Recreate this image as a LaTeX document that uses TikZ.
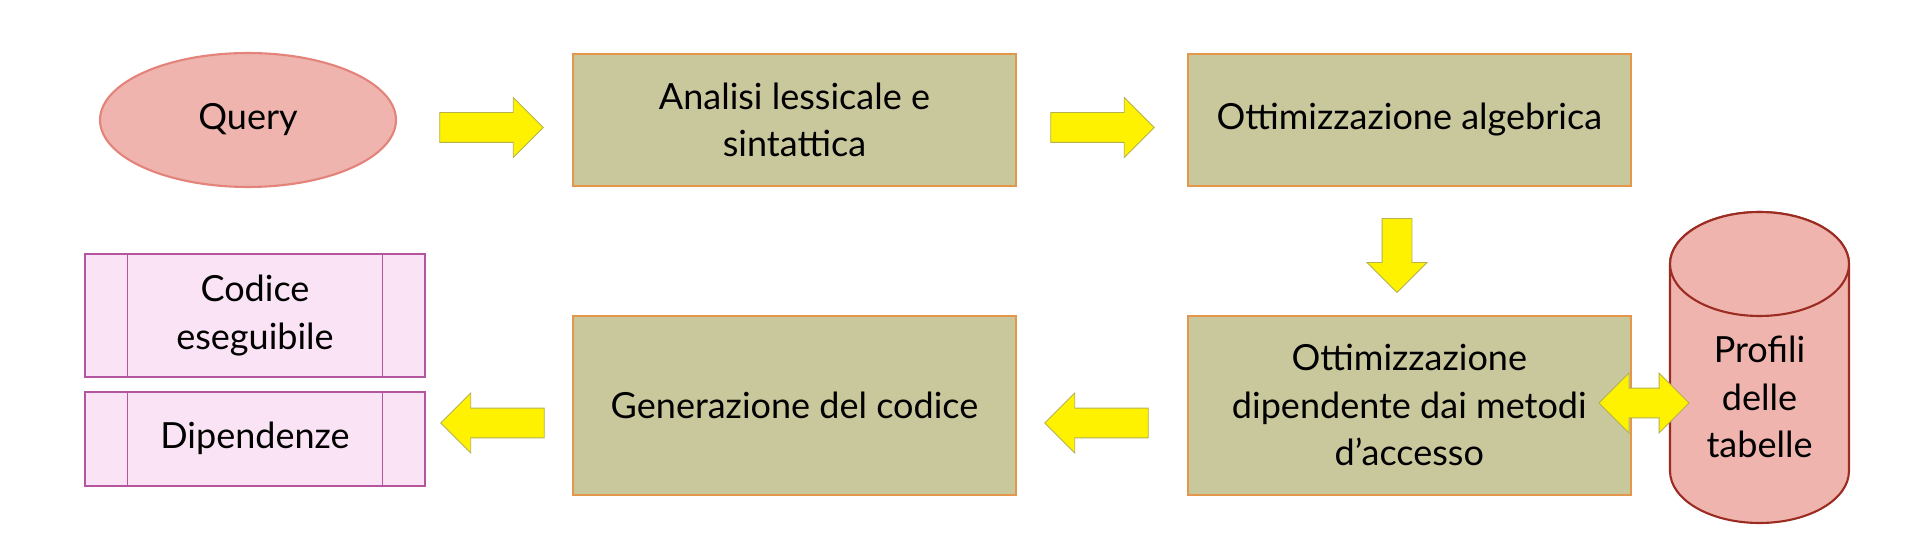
\documentclass[tikz,border=0pt]{standalone}
\usepackage{fontspec}
\setmainfont{Lato}
\usepackage{tikz}
\usetikzlibrary{positioning}
\usetikzlibrary{shapes,arrows}

\definecolor{queryfill}{HTML}{EFB4AE}
\definecolor{queryedge}{HTML}{E3837A}
\definecolor{stagefill}{HTML}{C9C79C}
\definecolor{stageedge}{HTML}{E4964A}
\definecolor{dbedge}{HTML}{9C2B22}
\definecolor{procfill}{HTML}{F9E3F5}
\definecolor{procedge}{HTML}{B3559F}
\definecolor{arrowedge}{HTML}{B5B24E}

\begin{document}
\begin{tikzpicture}[x=0.02cm, y=-0.02cm, font=\fontsize{20.5}{27}\selectfont,
    stagebox/.style={draw=stageedge, line width=1.1pt, fill=stagefill, minimum width=8.86cm, align=center},
    outbox/.style={draw=procedge, line width=1pt, fill=procfill, minimum width=6.8cm, align=center},
    yarrow/.style={single arrow, draw=arrowedge, line width=0.5pt, fill=yellow, inner xsep=0pt, inner ysep=0.29cm, single arrow head extend=0.3cm, minimum height=2.07cm}]
    \useasboundingbox (0,0) rectangle (1924,540);

    \node [ellipse, draw=queryedge, line width=1.2pt, fill=queryfill, minimum width=5.92cm, minimum height=2.68cm] (query) at (248,120) {Query};
    \node [stagebox, minimum height=2.64cm] (lexer) at (794.5,120) {Analisi lessicale e\\sintattica};
    \node [stagebox, minimum height=2.64cm] (algebra) [right=3.4cm of lexer] {Ottimizzazione algebrica};
    \node [stagebox, minimum height=3.58cm] (access) [below=2.56cm of algebra] {Ottimizzazione\\dipendente dai metodi\\d’accesso};
    \node [stagebox, minimum height=3.58cm] (codegen) [left=3.4cm of access] {Generazione del codice};

    % profili delle tabelle
    \draw [draw=dbedge, fill=queryfill, line width=1.2pt] (1670,264) -- (1670,471)
        arc [start angle=180, end angle=360, x radius=1.79cm, y radius=1.04cm] -- (1849,264)
        arc [start angle=0, end angle=180, x radius=1.79cm, y radius=1.04cm] -- cycle;
    \draw [draw=dbedge, fill=queryfill, line width=1.2pt] (1759.5,264) ellipse [x radius=1.79cm, y radius=1.04cm];
    \node [align=center] (profiles) at (1759.5,397) {Profili\\delle\\tabelle};

    \node [outbox, minimum height=2.46cm] (code) at (255,315.5) {Codice\\eseguibile};
    \node [outbox, minimum height=1.88cm] (deps) [below=0.26cm of code] {Dipendenze};
    \foreach \n in {code,deps} {
        \draw [procedge, line width=0.6pt] ([xshift=0.86cm]\n.north west) -- ([xshift=0.86cm]\n.south west);
        \draw [procedge, line width=0.6pt] ([xshift=-0.86cm]\n.north east) -- ([xshift=-0.86cm]\n.south east);
    }

    \node [yarrow] (toLexer) at (484,127.5) {};
    \node [yarrow] (toAlgebra) at (1095,127.5) {};
    \node [yarrow, shape border rotate=270, inner xsep=0.29cm, inner ysep=0pt, minimum height=1.48cm] (toAccess) at (1397,248) {};
    \node [double arrow, draw=arrowedge, line width=0.5pt, fill=yellow, inner xsep=0pt, inner ysep=0.29cm, double arrow head extend=0.3cm, minimum height=1.8cm] (toProfiles) at (1644,403) {};
    \node [yarrow, shape border rotate=180] (toCodegen) at (1104,423) {};
    \node [yarrow, shape border rotate=180] (toOutput) at (500,423) {};
\end{tikzpicture}
\end{document}
